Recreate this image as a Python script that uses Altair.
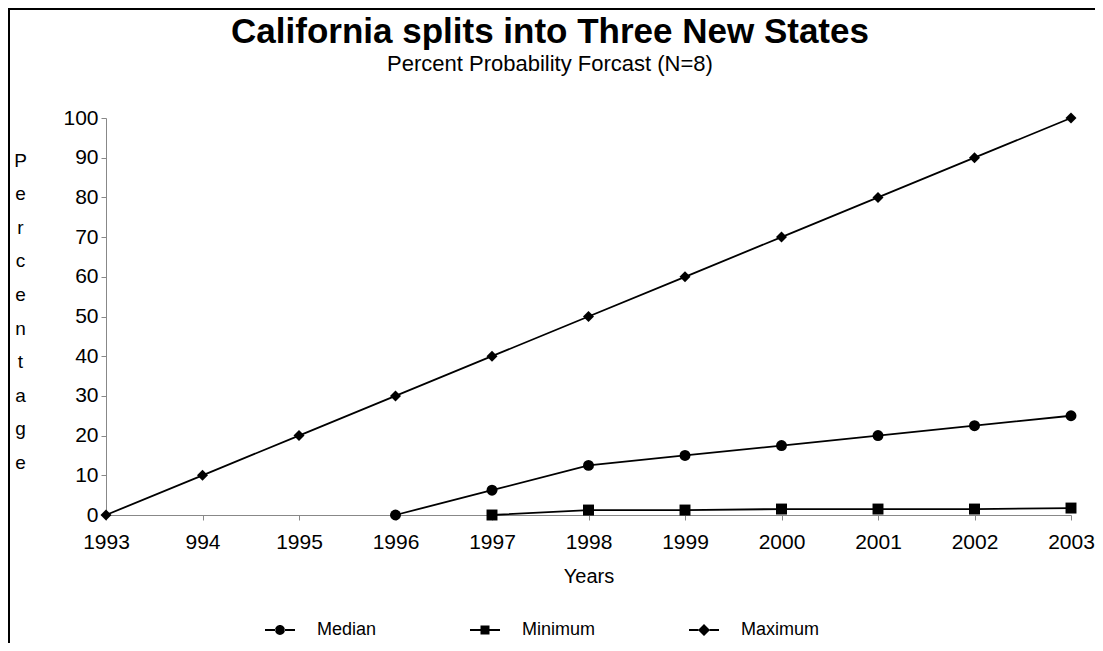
import altair as alt
import pandas as pd

# ---- data ----
title_text = "California splits into Three New States"
subtitle_text = "Percent Probability Forcast (N=8)"
years = [1993, 1994, 1995, 1996, 1997, 1998, 1999, 2000, 2001, 2002, 2003]
year_labels = ["1993", "994", "1995", "1996", "1997", "1998", "1999", "2000", "2001", "2002", "2003"]
median = [None, None, None, 0, 6.25, 12.5, 15, 17.5, 20, 22.5, 25]
minimum = [None, None, None, None, 0, 1.25, 1.25, 1.5, 1.5, 1.5, 1.75]
maximum = [0, 10, 20, 30, 40, 50, 60, 70, 80, 90, 100]
series_names = ["Median", "Minimum", "Maximum"]
y_ticks = [0, 10, 20, 30, 40, 50, 60, 70, 80, 90, 100]
y_title = list("Percentage")

rows = []
for name, vals in zip(series_names, [median, minimum, maximum]):
    for yr, v in zip(years, vals):
        if v is not None:
            rows.append({"year": yr, "value": v, "series": name})
df = pd.DataFrame(rows)

FONT = "Liberation Sans, Arial, sans-serif"
label_expr = "[" + ",".join("'%s'" % s for s in year_labels) + "][datum.value - 1993]"

x_enc = alt.X(
    "year:Q",
    scale=alt.Scale(domain=[years[0], years[-1]], nice=False, zero=False),
    axis=alt.Axis(
        values=years, labelExpr=label_expr, title="Years", grid=False,
        tickSize=5, labelFontSize=21, labelPadding=11, titleFontSize=20,
        titleFontWeight="normal", titlePadding=14, labelFlush=False,
    ),
)
y_enc = alt.Y(
    "value:Q",
    scale=alt.Scale(domain=[0, 100], nice=False),
    axis=alt.Axis(
        values=y_ticks, title=y_title, titleAngle=0, titleAlign="center",
        titleBaseline="top", titleX=-86, titleY=33, titleLineHeight=33.6,
        titleFontSize=19, titleFontWeight="normal", grid=False, tickSize=5,
        labelFontSize=21, labelPadding=3,
    ),
)

base = alt.Chart(df)

lines = base.mark_line(color="black", strokeWidth=1.8).encode(
    x=x_enc, y=y_enc, detail="series:N"
)

points = base.mark_point(filled=True, color="black", opacity=1).encode(
    x=x_enc, y=y_enc,
    shape=alt.Shape(
        "series:N",
        scale=alt.Scale(domain=series_names, range=["circle", "square", "diamond"]),
        legend=None,
    ),
    size=alt.value(120),
)

bar_l = "M-1,-0.06 H-0.3 V0.06 H-1 Z M0.3,-0.06 H1 V0.06 H0.3 Z "
circle_p = bar_l + "M-0.33,0 A0.33,0.33 0 1,0 0.33,0 A0.33,0.33 0 1,0 -0.33,0 Z"
square_p = bar_l + "M-0.3,-0.3 H0.3 V0.3 H-0.3 Z"
bar_d = "M-1,-0.06 H-0.38 V0.06 H-1 Z M0.38,-0.06 H1 V0.06 H0.38 Z "
diamond_p = bar_d + "M0,-0.4 L0.4,0 L0,0.4 L-0.4,0 Z"

legend_layer = base.transform_filter("false").transform_calculate(
    lg="datum.series"
).mark_point(filled=True, color="black", opacity=1).encode(
    x=x_enc, y=y_enc,
    shape=alt.Shape(
        "lg:N",
        scale=alt.Scale(domain=series_names, range=[circle_p, square_p, diamond_p]),
        legend=alt.Legend(
            title=None, orient="none", direction="horizontal",
            legendX=159, legendY=497, symbolSize=900, symbolStrokeWidth=0,
            labelFontSize=18, labelFont=FONT, labelOffset=22,
            columnPadding=93, labelColor="black",
        ),
    ),
)

one = pd.DataFrame({"k": [0]})
left_border = alt.Chart(one).mark_rule(color="black", strokeWidth=2).encode(
    x=alt.value(-97), y=alt.value(-110), y2=alt.value(525)
)
top_border = alt.Chart(one).mark_rule(color="black", strokeWidth=2).encode(
    x=alt.value(-98), x2=alt.value(989), y=alt.value(-109)
)
title_mark = alt.Chart(one).mark_text(
    font=FONT, fontSize=35, fontWeight="bold", align="center",
    baseline="alphabetic", color="black",
).encode(x=alt.value(444), y=alt.value(-75), text=alt.value(title_text))
subtitle_mark = alt.Chart(one).mark_text(
    font=FONT, fontSize=22, align="center", baseline="alphabetic", color="black",
).encode(x=alt.value(444), y=alt.value(-47), text=alt.value(subtitle_text))

chart = alt.layer(
    lines, points, legend_layer, left_border, top_border, title_mark, subtitle_mark
).resolve_scale(
    shape="independent"
).properties(
    width=965,
    height=397,
    padding={"left": 98, "top": 110, "right": 24, "bottom": 128},
    autosize=alt.AutoSizeParams(type="none"),
    view=alt.ViewBackground(stroke="transparent", strokeWidth=0, strokeOpacity=0),
).configure_view(strokeWidth=0, stroke="transparent", strokeOpacity=0).configure_axis(
    domainColor="black", tickColor="black", labelColor="black", titleColor="black",
    labelFont=FONT, titleFont=FONT, domainWidth=1.5, tickWidth=1.2,
).configure(background="white")

chart.save("out.html", embed_options={"renderer": "svg", "actions": False})
